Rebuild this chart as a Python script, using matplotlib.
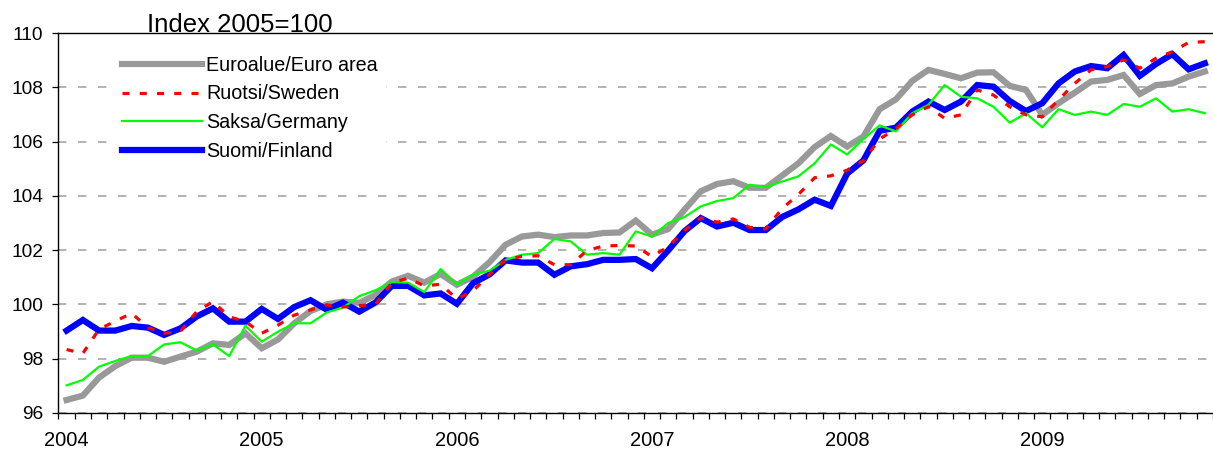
import matplotlib
matplotlib.use("Agg")
import matplotlib.pyplot as plt
import numpy as np

plt.rcParams['font.family'] = ['Liberation Sans', 'DejaVu Sans']

# monthly index values, Jan 2004 .. Nov 2009
years = ['2004', '2005', '2006', '2007', '2008', '2009']

euro_area = [96.47, 96.63, 97.30, 97.72, 98.03, 98.03, 97.88, 98.07, 98.25, 98.56, 98.50, 98.93,
             98.38, 98.70, 99.30, 99.75, 100.00, 100.10, 100.05, 100.35, 100.84, 101.05, 100.80, 101.12,
             100.72, 101.02, 101.55, 102.20, 102.50, 102.57, 102.48, 102.54, 102.54, 102.63, 102.65, 103.09,
             102.57, 102.78, 103.49, 104.17, 104.44, 104.54, 104.30, 104.30, 104.75, 105.20, 105.80, 106.21,
             105.82, 106.19, 107.20, 107.56, 108.24, 108.65, 108.50, 108.34, 108.55, 108.56, 108.06, 107.91,
             106.99, 107.42, 107.81, 108.22, 108.28, 108.46, 107.76, 108.09, 108.15, 108.40, 108.59]

sweden = [98.33, 98.19, 99.08, 99.38, 99.67, 99.14, 98.93, 99.00, 99.73, 100.10, 99.54, 99.36,
          98.93, 99.23, 99.60, 99.79, 99.98, 99.90, 99.95, 100.00, 100.80, 100.96, 100.68, 100.74,
          100.20, 100.50, 101.10, 101.64, 101.77, 101.79, 101.46, 101.46, 101.98, 102.15, 102.17, 102.15,
          101.76, 102.13, 102.73, 103.19, 103.03, 103.15, 102.84, 102.78, 103.53, 104.05, 104.67, 104.74,
          104.95, 105.30, 106.10, 106.48, 106.99, 107.29, 106.86, 106.99, 107.91, 107.72, 107.29, 106.99,
          106.92, 107.54, 108.15, 108.65, 108.77, 109.02, 108.71, 109.08, 109.32, 109.66, 109.69]

germany = [97.01, 97.21, 97.70, 97.91, 98.09, 98.09, 98.52, 98.60, 98.30, 98.52, 98.09, 99.21,
           98.62, 98.99, 99.30, 99.30, 99.70, 99.88, 100.30, 100.52, 100.82, 100.80, 100.45, 101.30,
           100.73, 101.10, 101.24, 101.64, 101.83, 101.89, 102.41, 102.32, 101.83, 101.89, 101.83, 102.69,
           102.50, 103.00, 103.22, 103.61, 103.81, 103.92, 104.41, 104.33, 104.53, 104.72, 105.20, 105.90,
           105.53, 106.10, 106.60, 106.38, 107.05, 107.36, 108.09, 107.66, 107.60, 107.29, 106.70, 107.05,
           106.53, 107.20, 106.99, 107.11, 106.99, 107.39, 107.29, 107.60, 107.11, 107.20, 107.05]

finland = [99.03, 99.42, 99.03, 99.03, 99.20, 99.14, 98.87, 99.11, 99.55, 99.85, 99.36, 99.36,
           99.83, 99.46, 99.90, 100.15, 99.80, 100.06, 99.73, 100.07, 100.68, 100.68, 100.33, 100.40,
           100.02, 100.78, 101.10, 101.62, 101.54, 101.54, 101.09, 101.40, 101.48, 101.64, 101.64, 101.67,
           101.33, 101.99, 102.70, 103.18, 102.87, 103.01, 102.74, 102.74, 103.22, 103.50, 103.86, 103.63,
           104.82, 105.31, 106.40, 106.52, 107.11, 107.48, 107.17, 107.48, 108.09, 108.03, 107.50, 107.13,
           107.42, 108.15, 108.59, 108.79, 108.71, 109.20, 108.43, 108.87, 109.23, 108.67, 108.89]

x = np.arange(len(euro_area))

fig = plt.figure(figsize=(12.13, 4.51), dpi=100)
ax = fig.add_axes([0.0482, 0.0849, 1 - 0.0482, 0.9262 - 0.0849])

# grid behind lines
ax.set_axisbelow(True)
ax.yaxis.grid(True, color='#a6a6a6', linestyle=(0, (5, 7)), linewidth=1.2)

l_euro, = ax.plot(x, euro_area, color='#999999', linewidth=4.5, solid_joinstyle='miter',
                  label='Euroalue/Euro area', zorder=2)
l_fin, = ax.plot(x, finland, color='#0000ff', linewidth=4.5, solid_joinstyle='miter',
                 label='Suomi/Finland', zorder=3)
l_ger, = ax.plot(x, germany, color='#00ff00', linewidth=1.6, label='Saksa/Germany', zorder=4)
l_swe, = ax.plot(x, sweden, color='#ff0000', linewidth=2.3, linestyle=(0, (2.2, 3.2)),
                 label='Ruotsi/Sweden', zorder=5)

ax.set_ylim(96, 110)
ax.set_yticks(np.arange(96, 111, 2))
ax.set_xlim(-0.5, 69.73)

# month boundaries as tick marks, years labelled at January
ax.set_xticks(np.arange(len(x) + 1) - 0.5)
ax.set_xticklabels([])
ax.set_xticks(np.arange(len(years)) * 12, minor=True)
ax.set_xticklabels(years, minor=True)
ax.tick_params(axis='x', which='major', direction='out', length=4, width=0.9, color='black')
ax.tick_params(axis='x', which='minor', length=0, pad=13, labelsize=14.5)
ax.tick_params(axis='y', direction='out', length=4, width=0.9, pad=7, labelsize=13.8)

for s in ['top', 'left', 'bottom']:
    ax.spines[s].set_color('black')
    ax.spines[s].set_linewidth(1.0)
ax.spines['right'].set_visible(False)

leg = ax.legend(handles=[l_euro, l_swe, l_ger, l_fin], loc='upper left',
                bbox_to_anchor=(0.048, 0.962), borderaxespad=0, fontsize=14.2,
                handlelength=4.05, handletextpad=0.22, labelspacing=0.5,
                frameon=True, facecolor='white', edgecolor='none', framealpha=1,
                borderpad=0.4)
leg.set_zorder(6)

fig.text(240 / 1213, 1 - 32 / 451, 'Index 2005=100', ha='center', va='baseline', fontsize=18.5)

fig.savefig('out.png', dpi=100)
